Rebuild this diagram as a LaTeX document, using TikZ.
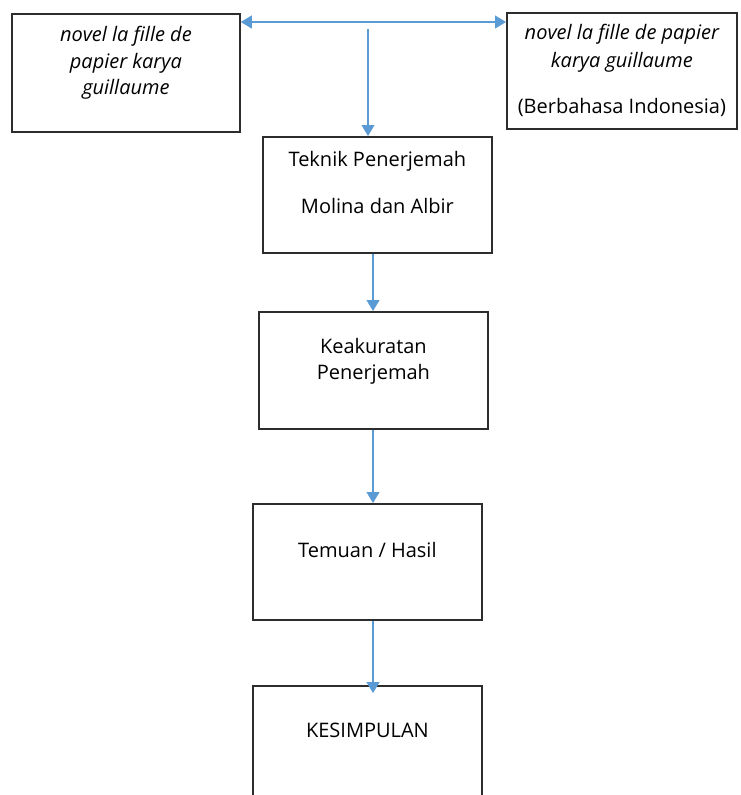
\documentclass[tikz,border=0pt]{standalone}
\usepackage{fontspec}
\setmainfont{Open Sans}
\usepackage{xcolor}
\usepackage{tikz}
\usetikzlibrary{arrows.meta, positioning, calc}

\definecolor{boxline}{RGB}{45,45,45}
\definecolor{arrowblue}{RGB}{91,155,213}

\begin{document}
\begin{tikzpicture}[x=1pt, y=-1pt, font=\fontsize{20}{26.5}\selectfont]
    % Styles
    \tikzstyle{block} = [rectangle, draw=boxline, line width=1.8pt, fill=white, minimum width=229pt, inner sep=0pt, align=center, anchor=north west]
    \tikzstyle{line} = [draw=arrowblue, line width=1.2pt, -{Triangle[width=13pt, length=11pt]}]

    \useasboundingbox (0,0) rectangle (741,795);

    % Nodes
    \node [block, minimum width=228pt, text height=81pt, text depth=37pt] (novel) at (11,13)
        {\itshape novel la fille de\\ \itshape papier karya\\ \itshape guillaume};
    \node [block, minimum width=230pt, text height=101pt, text depth=15pt] (terjemah) at (506,12)
        {\itshape novel la fille de papier\\[1.5pt] \itshape karya guillaume\\[19.5pt] (Berbahasa Indonesia)};
    \node [block, text height=77pt, text depth=39pt] (teknik) at (262,136)
        {Teknik Penerjemah\\[20.5pt] Molina dan Albir};
    \node [block, text height=68pt, text depth=49pt] (akurat) at (258,311)
        {Keakuratan\\[-0.5pt] Penerjemah};
    \node [block, text height=54pt, text depth=62pt] (temuan) at (252,503)
        {Temuan / Hasil};
    \node [block, text height=52pt, text depth=64pt] (simpulan) at (252,685)
        {KESIMPULAN};

    % Connector columns
    \coordinate (split) at (368,29);
    \coordinate (top) at (368,22);
    \coordinate (col) at (373,0);

    % Paths
    \path [line, {Triangle[width=13pt, length=11pt]}-{Triangle[width=13pt, length=11pt]}] (top -| novel.east) -- (top -| terjemah.west);
    \path [line] (split) -- (split |- teknik.north);
    \path [line] (teknik.south -| col) -- (akurat.north -| col);
    \path [line] (akurat.south -| col) -- (temuan.north -| col);
    \path [line, shorten >=-8pt] (temuan.south -| col) -- (simpulan.north -| col);
\end{tikzpicture}
\end{document}
